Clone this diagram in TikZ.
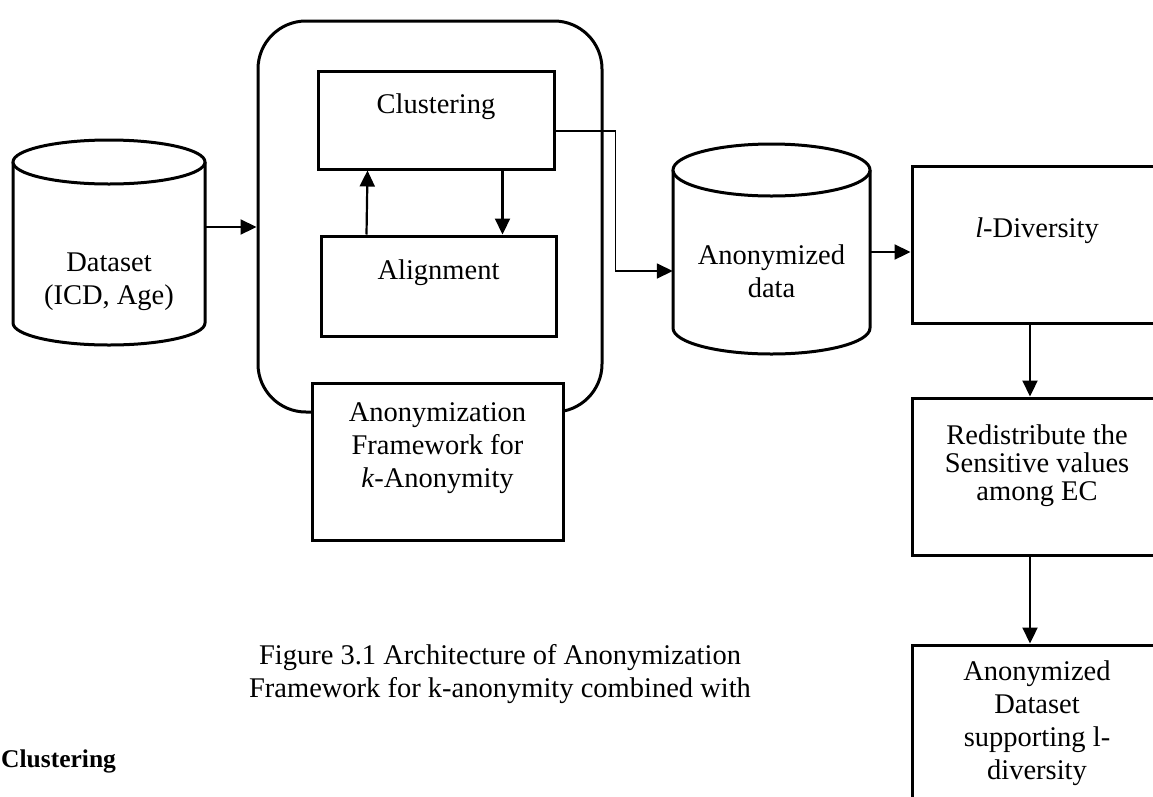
\documentclass[tikz,border=0pt]{standalone}
\usepackage{fontspec}
\setmainfont{Liberation Serif}
\usetikzlibrary{arrows.meta,calc}

\begin{document}
\begin{tikzpicture}[
    x=1pt,
    y=1pt,
    txt/.style={font=\fontsize{28.5}{33}\selectfont, align=center, inner sep=0pt},
    procbox/.style={txt, draw, line width=3pt, fill=white},
    drum/.style={draw, line width=3pt, fill=white},
    fwframe/.style={draw, line width=3pt, rounded corners=48pt},
    conn/.style={
      -{Triangle[length=16pt,width=15pt]},
      line width=2.2pt
    },
    thinconn/.style={conn, line width=1.6pt}
  ]
  \useasboundingbox (0,0) rectangle (1153,-796);

  % input data store
  \draw[drum] (13,-162) -- (13,-323)
    arc[start angle=180, end angle=360, x radius=96pt, y radius=22pt]
    -- (205,-162);
  \draw[drum] (109,-162) ellipse [x radius=96pt, y radius=22pt];
  \node[txt, minimum width=192pt] (dataset) at (109,-282) {Dataset\\(ICD, Age)};

  % k-anonymity framework
  \node[fwframe, minimum width=344pt, minimum height=391pt] (fw) at (430,-216.5) {};
  \node[procbox, minimum width=236pt, minimum height=98pt] (clust) at (436,-120)
    {Clustering\\\mbox{}};
  \node[procbox, minimum width=235pt, minimum height=100pt] (align) at (438.5,-286)
    {Alignment\\\mbox{}};
  \node[procbox, minimum width=251pt, minimum height=157pt] (fwlabel) at (437.5,-461.5)
    {Anonymization\\Framework for\\\textit{k}-Anonymity\\\mbox{}};

  % anonymized data store
  \draw[drum] (673,-170) -- (673,-328)
    arc[start angle=180, end angle=360, x radius=98.5pt, y radius=26pt]
    -- (870,-170);
  \draw[drum] (771.5,-170) ellipse [x radius=98.5pt, y radius=26pt];
  \node[txt, minimum width=197pt] (anon) at (771.5,-271) {Anonymized\\data};

  % l-diversity column
  \node[procbox, minimum width=250pt, minimum height=157pt] (ldiv) at (1037,-244.5)
    {\textit{l}-Diversity\\\mbox{}};
  \node[procbox, minimum width=250pt, minimum height=157pt,
    font=\fontsize{28.5}{28}\selectfont] (redis) at (1037,-476.5)
    {Redistribute the\\Sensitive values\\among EC\\\mbox{}};
  \node[procbox, minimum width=250pt, minimum height=157pt] (anonds) at (1037,-723.5)
    {Anonymized\\Dataset\\supporting l-\\diversity};

  % caption and heading
  \node[txt] (caption) at (500,-674)
    {Figure 3.1 Architecture of Anonymization\\Framework for k-anonymity combined with};
  \node[font=\fontsize{25.5}{30}\selectfont\bfseries, anchor=base west, inner sep=0pt]
    (sect) at (1,-767) {Clustering};

  % connectors
  \coordinate (fwin) at ($(fw.west)+(0,-10.5)$);
  \draw[conn] (dataset.east |- fwin) -- (fwin);

  \draw[conn] ($(align.north west)+(47,0)$) -- ($(clust.south west)+(51,0)$);
  \coordinate (cdown) at ($(clust.south west)+(186,0)$);
  \draw[conn] (cdown) -- (cdown |- align.north);

  \draw[thinconn] ($(clust.east)+(0,-11)$) -- ++(60,0) |- (anon.west);

  \coordinate (aout) at ($(anon.east)+(0,19)$);
  \draw[conn] (aout) -- (aout -| ldiv.west);
  \coordinate (ldown) at ($(ldiv.south)+(-7,0)$);
  \draw[conn] (ldown) -- (ldown |- redis.north);
  \coordinate (rdown) at ($(redis.south)+(-7,0)$);
  \draw[conn] (rdown) -- (rdown |- anonds.north);
\end{tikzpicture}
\end{document}
